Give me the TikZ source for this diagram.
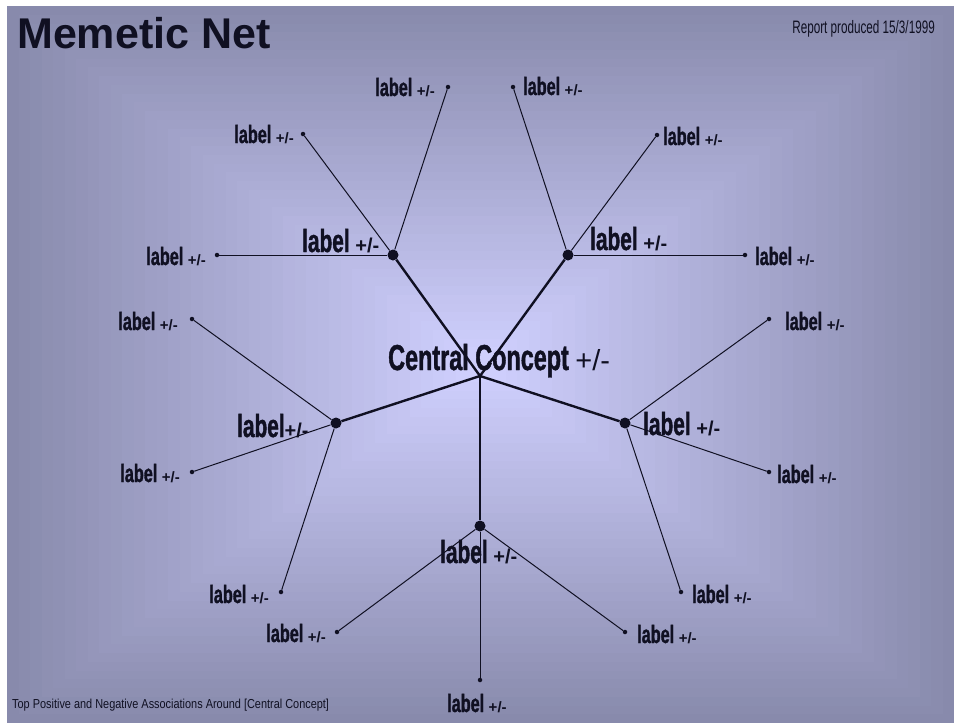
\documentclass[tikz,border=0pt]{standalone}
\usepackage{fontspec}
\setmainfont{Liberation Sans}
\newfontfamily\narrowfont[FakeStretch=0.65, BoldFeatures={FakeBold=1.2}]{Liberation Sans}
\newfontfamily\notefont[FakeStretch=0.84]{Liberation Sans}
\definecolor{ink}{RGB}{16,16,34}
\definecolor{bgout}{RGB}{136,138,172}
\definecolor{bgin}{RGB}{206,206,252}
\newcommand{\pmtext}[1]{{\normalfont\bfseries\fontsize{#1}{#1}\selectfont+/-}}

\begin{document}
\begin{tikzpicture}
			[x=1pt, y=-1pt,
			hub/.style ={circle, fill=ink, inner sep=0pt, minimum size=11pt},
			leaf/.style ={circle, fill=ink, inner sep=0pt, minimum size=4.5pt},
			spoke/.style ={draw=ink, line width=2.4pt},
			twig/.style ={draw=ink, line width=1pt},
			leaftext/.style ={font=\narrowfont\bfseries\fontsize{25}{25}\selectfont, text=ink, inner sep=0pt},
			hubtext/.style ={font=\narrowfont\bfseries\fontsize{32}{32}\selectfont, text=ink, inner sep=0pt}]
			\useasboundingbox[fill=white] (0,0) rectangle (954,723);
			\foreach \i in {0,...,39}
				\fill[bgin!\the\numexpr\i*100/39\relax!bgout] (7+\i*11.5,6+\i*8.75) rectangle (954-\i*11.5,723-\i*8.75);
			% centre and hubs
			\coordinate (c) at (480,376);
			\node[hub] (h1) at (393,255) {};
			\node[hub] (h2) at (568,255) {};
			\node[hub] (h3) at (336,423) {};
			\node[hub] (h4) at (625,423) {};
			\node[hub] (h5) at (480,526) {};
			% leaves
			\node[leaf] (l11) at (448,87) {};
			\node[leaf] (l12) at (303,134) {};
			\node[leaf] (l13) at (217,255) {};
			\node[leaf] (l21) at (513,87) {};
			\node[leaf] (l22) at (657,135) {};
			\node[leaf] (l23) at (745,255) {};
			\node[leaf] (l31) at (192,319) {};
			\node[leaf] (l32) at (192,472) {};
			\node[leaf] (l33) at (281,592) {};
			\node[leaf] (l41) at (769,319) {};
			\node[leaf] (l42) at (769,472) {};
			\node[leaf] (l43) at (681,592) {};
			\node[leaf] (l51) at (337,632) {};
			\node[leaf] (l52) at (625,632) {};
			\node[leaf] (l53) at (480,680) {};
			\foreach \h in {1,...,5}
				\draw[spoke] (c) -- (h\h);
			\foreach \h in {1,...,5}
				\foreach \l in {1,2,3}
					\draw[twig] (h\h) -- (l\h\l);
			% labels
			\node[hubtext, font=\narrowfont\bfseries\fontsize{36}{36}\selectfont, anchor=base west] (tc) at (388,370) {Central Concept {\normalfont\fontsize{29}{29}\selectfont+/-}};
			\node[hubtext, anchor=base west] (t1) at (302,252) {label \pmtext{20}};
			\node[hubtext, anchor=base west] (t2) at (590,250) {label \pmtext{20}};
			\node[hubtext, anchor=base west] (t3) at (237,437) {label\pmtext{20}};
			\node[hubtext, anchor=base west] (t4) at (643,435) {label \pmtext{20}};
			\node[hubtext, anchor=base west] (t5) at (440,563) {label \pmtext{20}};
			\node[leaftext, anchor=base east] (t11) at (435,96) {label \pmtext{15}};
			\node[leaftext, anchor=base east] (t12) at (294,143) {label \pmtext{15}};
			\node[leaftext, anchor=base east] (t13) at (206,265) {label \pmtext{15}};
			\node[leaftext, anchor=base west] (t21) at (523,95) {label \pmtext{15}};
			\node[leaftext, anchor=base west] (t22) at (663,145) {label \pmtext{15}};
			\node[leaftext, anchor=base west] (t23) at (755,265) {label \pmtext{15}};
			\node[leaftext, anchor=base east] (t31) at (178,330) {label \pmtext{15}};
			\node[leaftext, anchor=base east] (t32) at (180,482) {label \pmtext{15}};
			\node[leaftext, anchor=base east] (t33) at (269,603) {label \pmtext{15}};
			\node[leaftext, anchor=base west] (t41) at (785,330) {label \pmtext{15}};
			\node[leaftext, anchor=base west] (t42) at (777,483) {label \pmtext{15}};
			\node[leaftext, anchor=base west] (t43) at (692,603) {label \pmtext{15}};
			\node[leaftext, anchor=base east] (t51) at (326,642) {label \pmtext{15}};
			\node[leaftext, anchor=base west] (t52) at (637,643) {label \pmtext{15}};
			\node[leaftext, anchor=base west] (t53) at (447,712) {label \pmtext{15}};
			% title and notes
			\node[anchor=base west, inner sep=0pt, text=ink, font=\bfseries\fontsize{43}{43}\selectfont] (title) at (17,48) {Memetic Net};
			\node[anchor=base east, inner sep=0pt, text=ink, font=\narrowfont\fontsize{18}{18}\selectfont] (report) at (935,33) {Report produced 15/3/1999};
			\node[anchor=base west, inner sep=0pt, text=ink, font=\notefont\fontsize{13}{13}\selectfont] (note) at (12,708) {Top Positive and Negative Associations Around [Central Concept]};
		\end{tikzpicture}
\end{document}
